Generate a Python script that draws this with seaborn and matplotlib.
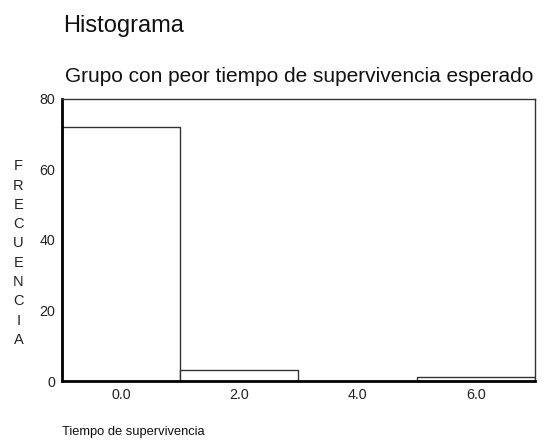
import matplotlib.pyplot as plt
import seaborn as sns

# histogram data
bin_centers = [0.0, 2.0, 4.0, 6.0]
counts = [72, 3, 0, 1]
bin_edges = [-1, 1, 3, 5, 7]
x_ticks = [0.0, 2.0, 4.0, 6.0]
y_ticks = [0, 20, 40, 60, 80]

sns.set_theme(style="white")
plt.rcParams["font.family"] = ["Liberation Sans", "DejaVu Sans"]

fig = plt.figure(figsize=(5.44, 4.41), dpi=100)
ax = fig.add_axes([0.114, 0.136, 0.869, 0.64])

sns.histplot(
    x=bin_centers, weights=counts, bins=bin_edges, ax=ax,
    color="white", edgecolor="#333333", linewidth=1.0, alpha=1.0,
)

ax.set_xlim(-1, 7)
ax.set_ylim(0, 80)
ax.set_xticks(x_ticks)
ax.set_xticklabels([f"{v:.1f}" for v in x_ticks])
ax.set_yticks(y_ticks)
ax.tick_params(axis="both", direction="inout", length=4, width=2, color="black",
               labelsize=10.3, labelcolor="#222222", pad=3)
ax.set_xlabel("")
ax.set_ylabel("")

for side in ["left", "bottom"]:
    ax.spines[side].set_linewidth(2)
    ax.spines[side].set_color("black")
for side in ["top", "right"]:
    ax.spines[side].set_linewidth(1)
    ax.spines[side].set_color("#333333")

fig.text(0.116, 0.94, "Histograma", fontsize=17, color="#111111", va="center")
fig.text(0.119, 0.826, "Grupo con peor tiempo de supervivencia esperado",
         fontsize=15, color="#111111", va="center")
fig.text(0.114, 0.02, "Tiempo de supervivencia", fontsize=9.3, color="#111111", va="center")
fig.text(0.034, 0.426, "\n".join("FRECUENCIA"), fontsize=10.5, color="#222222",
         ha="center", va="center", linespacing=1.48)

fig.savefig("out.png", dpi=100)
